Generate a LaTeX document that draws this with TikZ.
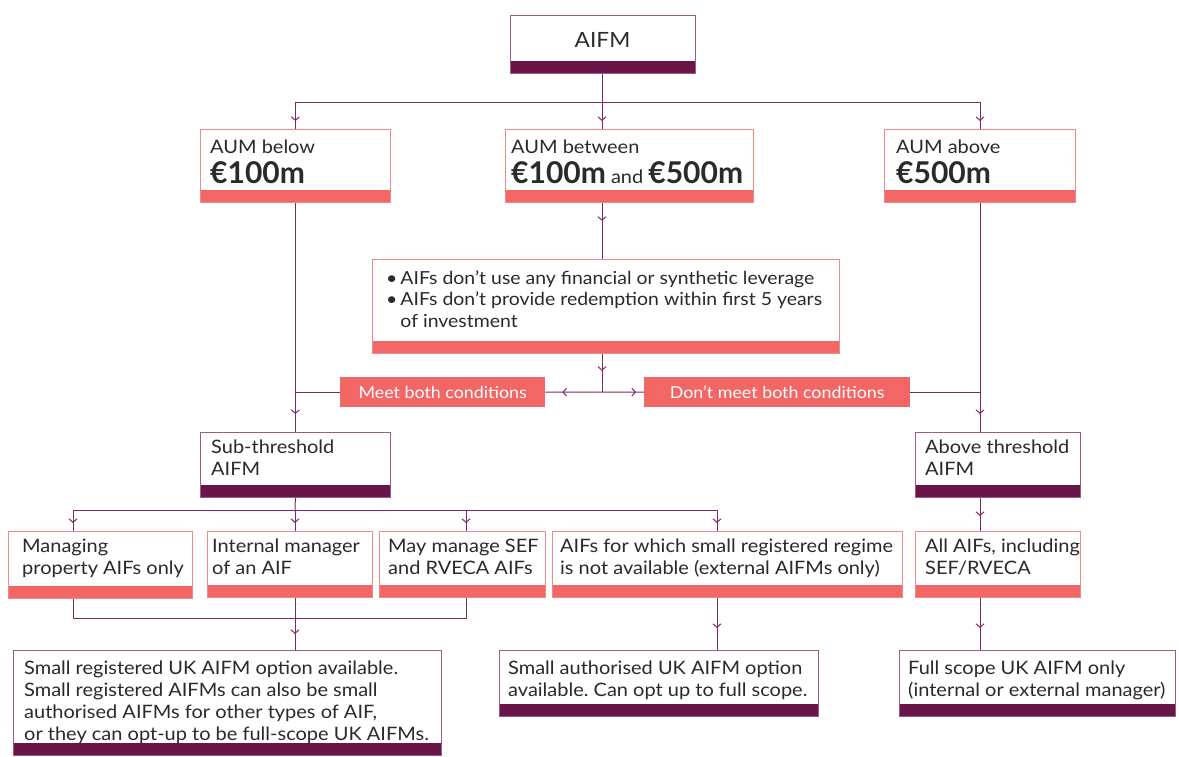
\documentclass[tikz,border=0pt]{standalone}
\usepackage{fontspec}
\setmainfont{Lato}[UprightFeatures={FakeStretch=1.08}]
\usetikzlibrary{arrows.meta,decorations.markings}
\definecolor{coral}{HTML}{F26666}
\definecolor{coralb}{HTML}{F08A8A}
\definecolor{plum}{HTML}{6A1547}
\definecolor{plumb}{HTML}{9A5C88}
\definecolor{linec}{HTML}{7A2A5E}
\definecolor{txtc}{HTML}{2A2A2A}
\frenchspacing
\tikzset{
  cbox/.style={draw=coralb, line width=0.8pt, fill=white, anchor=north west, inner sep=0pt,
    path picture={\fill[coral] (path picture bounding box.south west) rectangle ([yshift=12.5pt]path picture bounding box.south east);}},
  pbox/.style={draw=plumb, line width=0.8pt, fill=white, anchor=north west, inner sep=0pt,
    path picture={\fill[plum] (path picture bounding box.south west) rectangle ([yshift=12.5pt]path picture bounding box.south east);}},
  cfill/.style={fill=coral, anchor=north west, inner sep=0pt, text=white, font=\fontsize{16.5}{20}\selectfont},
  txt/.style={anchor=base west, inner sep=0pt, text=txtc, font=\fontsize{18.5}{22}\selectfont},
  conn/.style={draw=linec, line width=1pt},
  am/.style={postaction={decorate}, decoration={markings, mark=at position #1 with {\arrow[linec]{Straight Barb[length=3.5pt,width=8pt,line width=1pt]}}}}
}
\begin{document}
\begin{tikzpicture}[x=1pt,y=-1pt]
\useasboundingbox (0,0) rectangle (1179,756);
% boxes
\node[pbox, minimum width=185, minimum height=58] (aifm) at (510,15) {};
\node[inner sep=0pt, text=txtc, font=\fontsize{21}{21}\selectfont] (aifmt) at (602.5,40) {AIFM};

\node[cbox, minimum width=190, minimum height=73] (aum1) at (200,129) {};
\node[txt] (aum1t) at (210,153) {\parbox[t]{180pt}{AUM below\par\fontsize{30}{30}\selectfont\bfseries €100m}};
\node[cbox, minimum width=248, minimum height=73] (aum2) at (505,129) {};
\node[txt] (aum2t) at (511,153) {\parbox[t]{240pt}{AUM between\par\fontsize{18.5}{30}\selectfont{\fontsize{30}{30}\selectfont\bfseries €100m} and {\fontsize{30}{30}\selectfont\bfseries €500m}}};
\node[cbox, minimum width=191, minimum height=73] (aum3) at (884,129) {};
\node[txt] (aum3t) at (896,153) {\parbox[t]{180pt}{AUM above\par\fontsize{30}{30}\selectfont\bfseries €500m}};

\node[cbox, minimum width=467, minimum height=94] (cond) at (372,259) {};
\node[txt, font=\fontsize{18}{21.5}\selectfont] (condt) at (386,284) {\parbox[t]{450pt}{\raggedright •\hspace{3pt}AIFs don’t use any financial or synthetic leverage\\
•\hspace{3pt}AIFs don’t provide redemption within first 5 years\\
\phantom{•\hspace{3pt}}of investment}};

\node[cfill, minimum width=205, minimum height=30] (meet) at (340,377) {Meet both conditions};
\node[cfill, minimum width=266, minimum height=30] (dont) at (644,377) {Don’t meet both conditions};

\node[pbox, minimum width=190, minimum height=65] (sub) at (200,432) {};
\node[txt] (subt) at (211,453) {\parbox[t]{180pt}{\raggedright Sub-threshold\\AIFM}};
\node[pbox, minimum width=165, minimum height=65] (above) at (915,432) {};
\node[txt] (abovet) at (925,453) {\parbox[t]{160pt}{\raggedright Above threshold\\AIFM}};

\node[cbox, minimum width=184, minimum height=67] (man) at (8,531) {};
\node[txt] (mant) at (22,552) {\parbox[t]{180pt}{\raggedright Managing\\property AIFs only}};
\node[cbox, minimum width=165, minimum height=66] (int) at (207,531) {};
\node[txt] (intt) at (212,552) {\parbox[t]{160pt}{\raggedright Internal manager\\of an AIF}};
\node[cbox, minimum width=166, minimum height=66] (may) at (379,531) {};
\node[txt] (mayt) at (388,552) {\parbox[t]{160pt}{\raggedright May manage SEF\\and RVECA AIFs}};
\node[cbox, minimum width=350, minimum height=66] (aifs) at (552,531) {};
\node[txt] (aifst) at (560,552) {\parbox[t]{345pt}{\raggedright AIFs for which small registered regime\\is not available (external AIFMs only)}};
\node[cbox, minimum width=165, minimum height=66] (all) at (915,531) {};
\node[txt] (allt) at (925,552) {\parbox[t]{160pt}{\raggedright All AIFs, including\\SEF/RVECA}};

\node[pbox, minimum width=428, minimum height=105] (sreg) at (13,650) {};
\node[txt] (sregt) at (24,674) {\parbox[t]{420pt}{\raggedright Small registered UK AIFM option available.\\
Small registered AIFMs can also be small\\
authorised AIFMs for other types of AIF,\\
or they can opt-up to be full-scope UK AIFMs.}};
\node[pbox, minimum width=319, minimum height=66] (sauth) at (499,650) {};
\node[txt] (sautht) at (508,674) {\parbox[t]{310pt}{\raggedright Small authorised UK AIFM option\\available. Can opt up to full scope.}};
\node[pbox, minimum width=276, minimum height=66] (full) at (899,650) {};
\node[txt] (fullt) at (908,674) {\parbox[t]{270pt}{\raggedright Full scope UK AIFM only\\(internal or external manager)}};

% junctions
\coordinate (j1) at (602,102);
\coordinate (j2) at (602,392);
\coordinate (j3) at (295,510);
\coordinate (j4) at (295,618);
\coordinate (xa) at (73,0);
\coordinate (xc) at (466,0);
\coordinate (xd) at (717,0);
\coordinate (xr) at (980,0);

% connectors
\draw[conn] (aifm.south -| j1) -- (j1);
\draw[conn, am=-8pt] (j1) -| (aum1.north);
\draw[conn, am=-8pt] (j1) -- (j1 |- aum2.north);
\draw[conn, am=-8pt] (j1) -| (xr |- aum3.north);

\draw[conn, am=18pt] (j1 |- aum2.south) -- (j1 |- cond.north);
\draw[conn, am=17pt] (j1 |- cond.south) -- (j2);
\draw[conn, am=-17pt] (j2) -- (meet.east);
\draw[conn, am=-8pt] (j2) -- (dont.west);
\draw[conn] (meet.west) -- (meet.west -| aum1.south);
\draw[conn] (dont.east) -- (dont.east -| xr);

\draw[conn, am=-18pt] (aum1.south) -- (sub.north);
\draw[conn, am=-18pt] (xr |- aum3.south) -- (xr |- above.north);

\draw[conn] (sub.south) -- (j3);
\draw[conn, am=-8pt] (j3) -| (xa |- man.north);
\draw[conn, am=-8pt] (j3) -- (j3 |- int.north);
\draw[conn, am=-8pt] (j3) -| (xc |- may.north);
\draw[conn, am=-8pt] (j3) -| (xd |- aifs.north);
\draw[conn, am=-15pt] (xr |- above.south) -- (xr |- all.north);

\draw[conn] (xa |- man.south) |- (j4);
\draw[conn] (xc |- may.south) |- (j4);
\draw[conn, am=-16pt] (j3 |- int.south) -- (j3 |- sreg.north);
\draw[conn, am=-22pt] (xd |- aifs.south) -- (xd |- sauth.north);
\draw[conn, am=-22pt] (xr |- all.south) -- (xr |- full.north);
\end{tikzpicture}
\end{document}
